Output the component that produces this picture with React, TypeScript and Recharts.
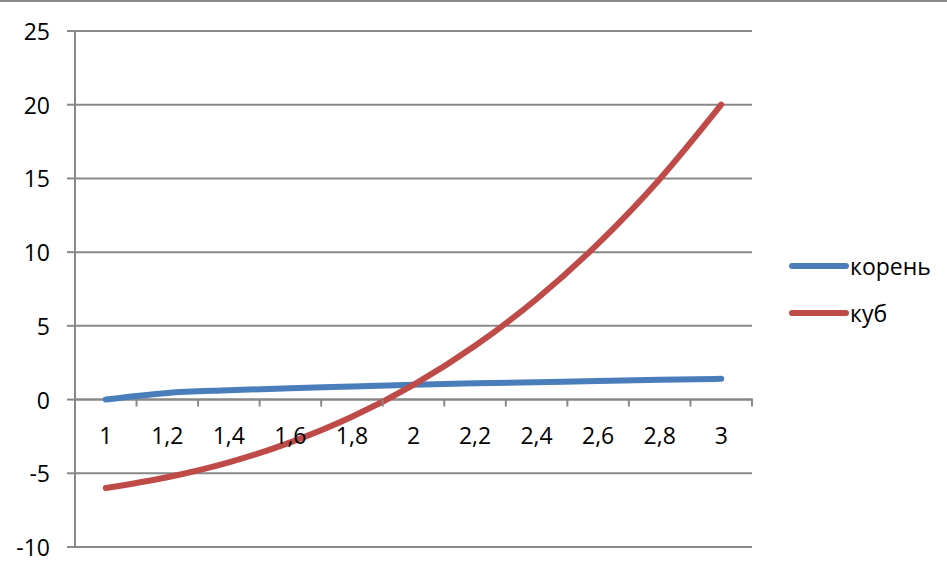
import React from 'react';
import { LineChart, Line, XAxis, YAxis, CartesianGrid, ReferenceLine } from 'recharts';

const categories = ['1', '1,2', '1,4', '1,6', '1,8', '2', '2,2', '2,4', '2,6', '2,8', '3'];
const rootValues = [0, 0.45, 0.63, 0.77, 0.89, 1.0, 1.1, 1.18, 1.26, 1.34, 1.41];
const cubeValues = [-6, -5.27, -4.26, -2.9, -1.17, 1, 3.65, 6.82, 10.58, 14.95, 20];
const yTicks = [-10, -5, 0, 5, 10, 15, 20, 25];
const seriesNames = ['корень', 'куб'];

const W = 947;
const H = 564;
const M = { top: 31, right: 195, bottom: 16, left: 15 };
const X_AXIS_H = 1;
const Y_AXIS_W = 60;
const PLOT_LEFT = M.left + Y_AXIS_W;
const PLOT_W = W - M.right - PLOT_LEFT;
const PLOT_H = H - M.top - M.bottom - X_AXIS_H;
const Y_MIN = -10;
const Y_MAX = 25;
const BAND = PLOT_W / categories.length;
const ZERO_Y = M.top + ((Y_MAX - 0) / (Y_MAX - Y_MIN)) * PLOT_H;

const FONT = "'Open Sans', sans-serif";
const FS = 23;
const GRID = '#888888';
const BLUE = '#4A7EBB';
const RED = '#BE4B48';

const data = categories.map((c, i) => ({ x: c, root: rootValues[i], cube: cubeValues[i] }));

const XTick = (props: any) => {
  const { x, payload, index } = props;
  const last = index === categories.length - 1;
  return (
    <g>
      <line x1={x - BAND / 2} x2={x - BAND / 2} y1={ZERO_Y} y2={ZERO_Y + 7} stroke={GRID} strokeWidth={2} />
      {last && (
        <line x1={x + BAND / 2} x2={x + BAND / 2} y1={ZERO_Y - 1} y2={ZERO_Y + 7} stroke={GRID} strokeWidth={2} />
      )}
      <text x={x} y={ZERO_Y + 35} textAnchor="middle" dominantBaseline="central" fontFamily={FONT} fontSize={FS} fill="#000">
        {payload.value}
      </text>
    </g>
  );
};

const YTick = (props: any) => {
  const { x, y, payload } = props;
  return (
    <text x={x} y={y} textAnchor="end" dominantBaseline="central" fontFamily={FONT} fontSize={FS} fill="#000">
      {payload.value}
    </text>
  );
};

const LegendBox = () => {
  const colors = [BLUE, RED];
  return (
    <div style={{ position: 'absolute', left: 789, top: 242, fontFamily: FONT, fontSize: FS, color: '#000' }}>
      {seriesNames.map((n, i) => (
        <div key={n} style={{ display: 'flex', alignItems: 'center', height: 47 }}>
          <svg width={61} height={10} style={{ display: 'block' }}>
            <line x1={3} x2={57} y1={5} y2={5} stroke={colors[i]} strokeWidth={6} strokeLinecap="round" />
          </svg>
          <span style={{ lineHeight: '26px' }}>{n}</span>
        </div>
      ))}
    </div>
  );
};

export default function App() {
  return (
    <div style={{ position: 'absolute', left: 0, top: 0, width: W, height: H, background: '#fff' }}>
      <div style={{ position: 'absolute', left: 0, top: 0, width: W, height: 2, background: GRID }} />
      <LineChart width={W} height={H} data={data} margin={M}>
        <CartesianGrid vertical={false} stroke={GRID} strokeWidth={2} />
        <XAxis
          dataKey="x"
          height={X_AXIS_H}
          axisLine={false}
          tickLine={false}
          interval={0}
          padding={{ left: BAND / 2, right: BAND / 2 }}
          tick={<XTick />}
        />
        <YAxis
          width={Y_AXIS_W}
          domain={[Y_MIN, Y_MAX]}
          ticks={yTicks}
          allowDataOverflow
          axisLine={{ stroke: GRID, strokeWidth: 2 }}
          tickLine={{ stroke: GRID, strokeWidth: 2 }}
          tickSize={8}
          tickMargin={17}
          tick={<YTick />}
        />
        <ReferenceLine y={0} stroke={GRID} strokeWidth={2} />
        <Line
          type="monotone"
          dataKey="root"
          name={seriesNames[0]}
          stroke={BLUE}
          strokeWidth={6}
          strokeLinecap="round"
          dot={false}
          isAnimationActive={false}
        />
        <Line
          type="monotone"
          dataKey="cube"
          name={seriesNames[1]}
          stroke={RED}
          strokeWidth={6}
          strokeLinecap="round"
          dot={false}
          isAnimationActive={false}
        />
      </LineChart>
      <LegendBox />
    </div>
  );
}
